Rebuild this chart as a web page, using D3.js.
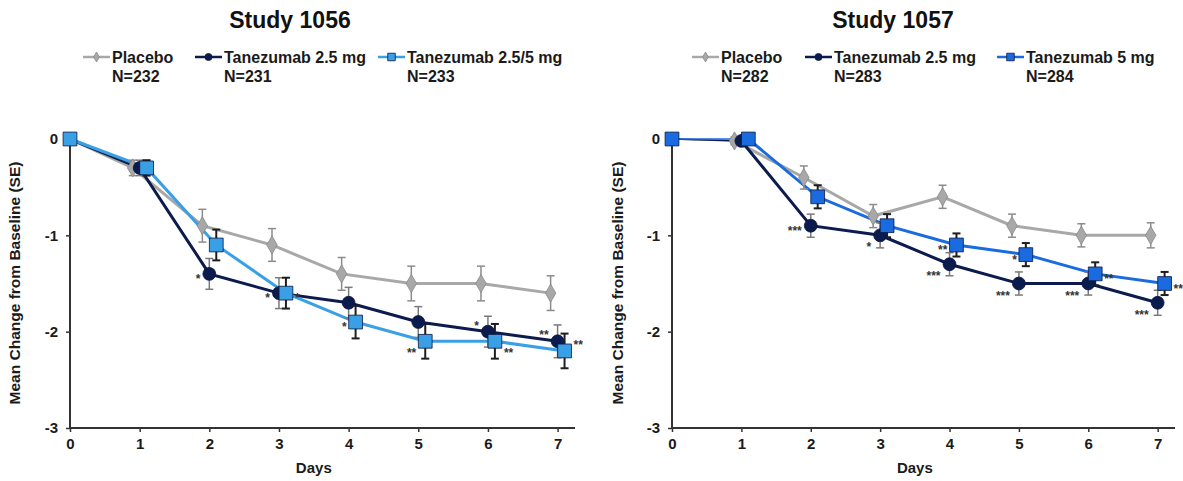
<!DOCTYPE html>
<html><head><meta charset="utf-8">
<script src="https://cdn.jsdelivr.net/npm/d3@7"></script>
<style>body{margin:0;background:#fff}svg{display:block}text{font-family:"Liberation Sans",Arial,sans-serif;font-weight:bold}</style>
</head><body><svg id="c" width="1183" height="481"></svg>
<script>
const days = [0,1,2,3,4,5,6,7];
const yTicks = [0,-1,-2,-3];
const titles = ["Study 1056","Study 1057"];
const seriesNames1 = ["Placebo","Tanezumab 2.5 mg","Tanezumab 2.5/5 mg"];
const seriesN1 = ["N=232","N=231","N=233"];
const seriesNames2 = ["Placebo","Tanezumab 2.5 mg","Tanezumab 5 mg"];
const seriesN2 = ["N=282","N=283","N=284"];
// Study 1056 means and SE
const placebo1 = [0,-0.3,-0.9,-1.1,-1.4,-1.5,-1.5,-1.6];
const placeboSE1 = [0,0.08,0.17,0.17,0.17,0.18,0.18,0.18];
const tan25_1 = [0,-0.3,-1.4,-1.6,-1.7,-1.9,-2.0,-2.1];
const tan25SE1 = [0,0.08,0.16,0.16,0.16,0.16,0.16,0.17];
const tan255_1 = [0,-0.3,-1.1,-1.6,-1.9,-2.1,-2.1,-2.2];
const tan255SE1 = [0,0.08,0.16,0.16,0.17,0.18,0.18,0.18];
// Study 1057 means and SE
const placebo2 = [0,-0.02,-0.4,-0.8,-0.6,-0.9,-1.0,-1.0];
const placeboSE2 = [0,0.04,0.12,0.12,0.12,0.12,0.12,0.13];
const tan25_2 = [0,-0.02,-0.9,-1.0,-1.3,-1.5,-1.5,-1.7];
const tan25SE2 = [0,0.04,0.12,0.13,0.12,0.12,0.12,0.13];
const tan5_2 = [0,0,-0.6,-0.9,-1.1,-1.2,-1.4,-1.5];
const tan5SE2 = [0,0.04,0.12,0.12,0.12,0.12,0.12,0.12];
// significance annotations: [series index, day, label, placement]
const sig1 = [[1,2,"*","l"],[1,3,"*","l"],[2,3,"*","r"],[2,4,"*","l"],[2,5,"**","ld"],[1,6,"*","lu"],[2,6,"**","rd"],[1,7,"**","lu"],[2,7,"**","ru"]];
const sig2 = [[1,2,"***","l"],[1,3,"*","ld"],[2,4,"**","l"],[1,4,"***","ld"],[2,5,"*","l"],[1,5,"***","ld"],[2,6,"**","r"],[1,6,"***","ld"],[2,7,"**","r"],[1,7,"***","ld"]];

const svg = d3.select("#c");
const colors1 = ["#a8a8a8","#0c1b4d","#3aa0e6"];
const colors2 = ["#a8a8a8","#0c1b4d","#1a6be0"];
const barColors = ["#8c8c8c","#7a7a7a","#1e1e1e"];
const shapes = [d3.symbolDiamond, d3.symbolCircle, d3.symbolSquare];
const shapeSize = [95,130,190];
const dxOff = [-0.1,0,0.1];

const panels = [
  {x0:70,x1:575,title:titles[0],tx:290,names:seriesNames1,ns:seriesN1,colors:colors1,
   data:[[placebo1,placeboSE1],[tan25_1,tan25SE1],[tan255_1,tan255SE1]],sig:sig1,thin:false,
   leg:[83,195,378],ytitleX:20},
  {x0:672,x1:1175,title:titles[1],tx:893,names:seriesNames2,ns:seriesN2,colors:colors2,
   data:[[placebo2,placeboSE2],[tan25_2,tan25SE2],[tan5_2,tan5SE2]],sig:sig2,thin:true,
   leg:[692,805,997],ytitleX:623}
];

panels.forEach(p=>{
  const g = svg.append("g");
  const x = d3.scaleLinear().domain([0,7.25]).range([p.x0,p.x1]);
  const y = d3.scaleLinear().domain([-3,0]).range([428,139]);
  const px = (si,d)=> x(d===0?0:d+dxOff[si]);

  g.append("text").attr("x",p.tx).attr("y",28).attr("text-anchor","middle")
    .style("font-size","23px").attr("fill","#111").text(p.title);

  // legend
  p.names.forEach((n,i)=>{
    const lx = p.leg[i];
    const lg = g.append("g");
    lg.append("line").attr("x1",lx).attr("x2",lx+27).attr("y1",57).attr("y2",57)
      .attr("stroke",p.colors[i]).attr("stroke-width",2.5);
    lg.append("path").attr("d",d3.symbol(shapes[i], shapeSize[i]*0.3)())
      .attr("transform",`translate(${lx+13.5},57)`).attr("fill",p.colors[i])
      .attr("stroke",i===0?"#888":"#0a1640").attr("stroke-width",0.8);
    lg.append("text").attr("x",lx+29).attr("y",63).style("font-size","16px").attr("fill","#1a1a1a").text(n);
    lg.append("text").attr("x",lx+29).attr("y",82).style("font-size","16px").attr("fill","#1a1a1a").text(p.ns[i]);
  });

  // axes
  const ya = g.append("g").attr("transform",`translate(${p.x0},0)`)
    .call(d3.axisLeft(y).tickValues(yTicks).tickFormat(d=>String(d)).tickSize(4).tickPadding(8));
  const xa = g.append("g").attr("transform",`translate(0,428)`)
    .call(d3.axisBottom(x).tickValues(days).tickFormat(d=>String(d)).tickSize(4).tickPadding(6));
  [ya,xa].forEach(a=>{
    a.select(".domain").attr("stroke","#333").attr("stroke-width",2);
    a.selectAll(".tick line").attr("stroke","#333").attr("stroke-width",1.5);
    a.selectAll("text").style("font-size","15px").attr("fill","#1a1a1a")
      .style("font-family",'"Liberation Sans",Arial,sans-serif').style("font-weight","bold");
  });
  ya.select(".domain").attr("d",`M-4,${y(0)}H0V${y(-3)}`);
  xa.select(".domain").attr("d",`M${p.x0},0H${p.x1}`);

  g.append("text").attr("x",(x(0)+x(7))/2).attr("y",473).attr("text-anchor","middle")
    .style("font-size","15px").attr("fill","#1a1a1a").text("Days");
  g.append("text").attr("transform",`translate(${p.ytitleX},283) rotate(-90)`).attr("text-anchor","middle")
    .style("font-size","15.5px").attr("fill","#1a1a1a").text("Mean Change from Baseline (SE)");

  // lines
  p.data.forEach((s,si)=>{
    const pts = days.map((d,i)=>[px(si,d),y(s[0][i])]);
    const line = d3.line();
    if(p.thin){
      g.append("path").attr("d",line(pts.slice(0,2))).attr("fill","none")
        .attr("stroke",p.colors[si]).attr("stroke-width",1.5);
      g.append("path").attr("d",line(pts.slice(1))).attr("fill","none")
        .attr("stroke",p.colors[si]).attr("stroke-width",3);
    } else {
      g.append("path").attr("d",line(pts)).attr("fill","none")
        .attr("stroke",p.colors[si]).attr("stroke-width",3);
    }
  });
  // error bars
  p.data.forEach((s,si)=>{
    days.forEach((d,i)=>{
      if(s[1][i]<=0) return;
      const cx = px(si,d), y1=y(s[0][i]+s[1][i]), y2=y(s[0][i]-s[1][i]);
      const eg = g.append("g").attr("stroke",barColors[si]).attr("stroke-width",si===2?2:1.5);
      eg.append("line").attr("x1",cx).attr("x2",cx).attr("y1",y1).attr("y2",y2);
      eg.append("line").attr("x1",cx-4).attr("x2",cx+4).attr("y1",y1).attr("y2",y1);
      eg.append("line").attr("x1",cx-4).attr("x2",cx+4).attr("y1",y2).attr("y2",y2);
    });
  });
  // markers
  p.data.forEach((s,si)=>{
    days.forEach((d,i)=>{
      if(d===0 && si<2) return;
      g.append("path").attr("d",d3.symbol(shapes[si],shapeSize[si])())
        .attr("transform",`translate(${px(si,d)},${y(s[0][i])})`)
        .attr("fill",p.colors[si]).attr("stroke",si===0?"#888":"#0a1640").attr("stroke-width",0.8);
    });
  });
  // significance
  p.sig.forEach(([si,d,lab,pl])=>{
    const cx = px(si,d), cy = y(p.data[si][0][d]);
    const left = pl[0]==="l";
    let dy = 9;
    if(pl.includes("d")) dy = 16;
    if(pl.includes("u")) dy = -2;
    g.append("text").attr("x",cx+(left?-9:9)).attr("y",cy+dy)
      .attr("text-anchor",left?"end":"start").style("font-size","12px").attr("fill","#333").text(lab);
  });
});
</script></body></html>
